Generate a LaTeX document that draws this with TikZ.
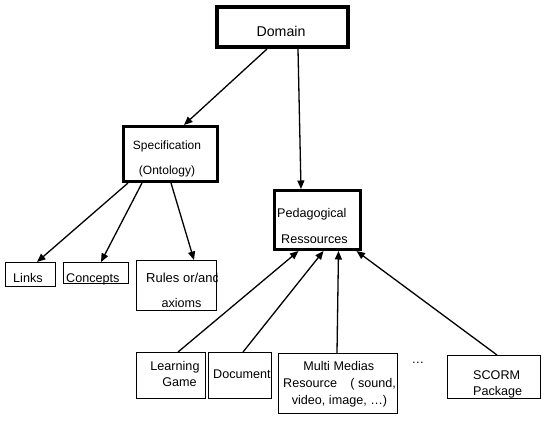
\documentclass[tikz,border=0pt]{standalone}
\usepackage{fontspec}
\setmainfont{Liberation Sans}
\usetikzlibrary{arrows.meta}
\begin{document}
\begin{tikzpicture}[x=1pt,y=-1pt,
  box/.style={draw,rectangle,inner sep=0pt,line width=1pt},
  thickbox/.style={box,line width=3pt},
  heavybox/.style={box,line width=4pt},
  txt/.style={inner sep=0pt,font=\fontsize{12.6}{14}\selectfont},
  conn/.style={line width=1.3pt,-{Triangle[length=8.5pt,width=7pt]}}]
\useasboundingbox[fill=white] (0,0) rectangle (551,426);
% boxes
\node[heavybox,minimum width=131pt,minimum height=40pt] (domain) at (282.5,27) {};
\node[thickbox,minimum width=94pt,minimum height=55pt] (spec) at (170.5,154) {};
\node[thickbox,minimum width=86pt,minimum height=59pt] (ped) at (317.5,220) {};
\node[box,minimum width=50pt,minimum height=24pt] (links) at (30.5,274.5) {};
\node[box,minimum width=65pt,minimum height=21pt] (concepts) at (96,273) {};
\node[box,minimum width=80pt,minimum height=50pt] (rules) at (176.5,285.5) {};
\node[box,minimum width=69pt,minimum height=46pt] (lg) at (171,375.5) {};
\node[box,minimum width=63pt,minimum height=46pt] (doc) at (240,375.5) {};
\node[box,minimum width=119pt,minimum height=60pt] (multi) at (338,383.5) {};
\node[box,minimum width=93pt,minimum height=43pt] (scorm) at (494,377) {};
% texts
\node[txt,anchor=base,font=\fontsize{14.2}{16}\selectfont] (domaint) at (281,36.5) {Domain};
\node[txt,anchor=base,font=\fontsize{12}{14}\selectfont] (spect1) at (167,149) {Specification};
\node[txt,anchor=base,font=\fontsize{12}{14}\selectfont] (spect2) at (167,174) {(Ontology)};
\node[txt,anchor=base west] (pedt1) at (277,217.5) {Pedagogical};
\node[txt,anchor=base west] (pedt2) at (281,243) {Ressources};
\node[txt,anchor=base west] (linkst) at (13,282) {Links};
\node[txt,anchor=base west] (conceptst) at (66,282) {Concepts};
\begin{scope}
\clip (rules.north west) rectangle (rules.south east);
\node[txt,anchor=base west,font=\fontsize{13}{15}\selectfont] (rulest1) at (146,282) {Rules or/and};
\end{scope}
\node[txt,anchor=base] (rulest2) at (181.5,307) {axioms};
\node[txt,anchor=base] (lgt1) at (175,370) {Learning};
\node[txt,anchor=base] (lgt2) at (179.5,386.5) {Game};
\node[txt,anchor=base west] (doct) at (213,378) {Document};
\node[txt,anchor=base] (multit1) at (338.8,370) {Multi Medias};
\node[txt,anchor=base west] (multit2) at (283,387.5) {Resource\hspace{1.05em}( sound,};
\node[txt,anchor=base] (multit3) at (339.5,404.5) {video, image, \dots)};
\node[txt,anchor=base] (dots) at (418,363) {\dots};
\node[txt,anchor=base west] (scormt1) at (473,379) {SCORM};
\node[txt,anchor=base west] (scormt2) at (473,395) {Package};
% connectors
\draw[conn] ([xshift=-15.5pt]domain.south) -- ([xshift=13.5pt]spec.north);
\draw[conn] ([xshift=15.5pt]domain.south) -- ([xshift=-16.5pt]ped.north);
\draw[conn] ([xshift=-42.5pt]spec.south) -- ([xshift=6.5pt]links.north);
\draw[conn] ([xshift=-28.5pt]spec.south) -- ([xshift=5pt]concepts.north);
\draw[conn] ([xshift=0.5pt]spec.south) -- ([xshift=17.5pt]rules.north);
\draw[conn] ([xshift=7pt]lg.north) -- ([xshift=-19pt]ped.south);
\draw[conn] ([xshift=3pt]doc.north) -- ([xshift=6pt]ped.south);
\draw[conn] ([xshift=-1pt]multi.north) -- ([xshift=21pt]ped.south);
\draw[conn] ([xshift=3pt]scorm.north) -- ([xshift=39pt]ped.south);
\end{tikzpicture}
\end{document}
